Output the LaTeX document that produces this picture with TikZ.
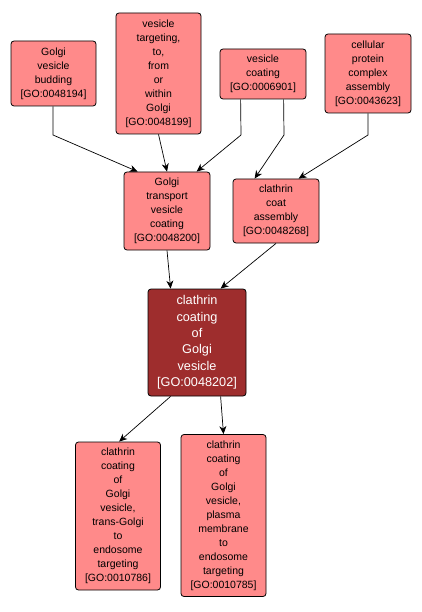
\documentclass[tikz,border=0pt]{standalone}
\usepackage{fontspec}
\setmainfont{Liberation Sans}
\usetikzlibrary{arrows.meta}
\definecolor{nodefill}{RGB}{255,138,138}
\definecolor{mainfill}{RGB}{158,45,45}
\tikzset{
  term/.style={draw=black, line width=0.8pt, rounded corners=3pt, fill=nodefill,
    align=center, inner sep=0pt, font=\fontsize{10.5}{14}\selectfont, text=black},
  mainterm/.style={term, fill=mainfill, text=white, font=\fontsize{12.7}{16.4}\selectfont},
  edge/.style={draw=black, line width=0.7pt, -{Stealth[length=8pt,width=7pt,inset=2.5pt]}}
}
\begin{document}
\begin{tikzpicture}[x=1pt,y=-1pt]
\useasboundingbox (0,0) rectangle (421,612);
\node[term, minimum width=85pt, minimum height=65pt] (n1) at (53.5,73.5) {Golgi\\vesicle\\budding\\{[}GO:0048194{]}};
\node[term, minimum width=85pt, minimum height=121pt] (n2) at (158.5,73.5) {vesicle\\targeting,\\to,\\from\\or\\within\\Golgi\\{[}GO:0048199{]}};
\node[term, minimum width=86pt, minimum height=50pt] (n3) at (263,74) {vesicle\\coating\\{[}GO:0006901{]}};
\node[term, minimum width=86pt, minimum height=79pt] (n4) at (368,73.5) {cellular\\protein\\complex\\assembly\\{[}GO:0043623{]}};
\node[term, minimum width=86pt, minimum height=78pt] (n5) at (167,211) {Golgi\\transport\\vesicle\\coating\\{[}GO:0048200{]}};
\node[term, minimum width=86pt, minimum height=64pt] (n6) at (276,211) {clathrin\\coat\\assembly\\{[}GO:0048268{]}};
\node[mainterm, minimum width=98pt, minimum height=107pt] (n7) at (197,342.5) {clathrin\\coating\\of\\Golgi\\vesicle\\{[}GO:0048202{]}};
\node[term, minimum width=85pt, minimum height=148pt] (n8) at (118,516) {clathrin\\coating\\of\\Golgi\\vesicle,\\trans-Golgi\\to\\endosome\\targeting\\{[}GO:0010786{]}};
\node[term, minimum width=85pt, minimum height=162pt] (n9) at (223.5,515.5) {clathrin\\coating\\of\\Golgi\\vesicle,\\plasma\\membrane\\to\\endosome\\targeting\\{[}GO:0010785{]}};
\coordinate (b1) at (53,135);
\coordinate (b3a) at (241,135);
\coordinate (b3b) at (284,135);
\coordinate (b4) at (368,135);
\draw[edge] ([xshift=-0.5pt]n1.south) -- (b1) -- ([xshift=14pt]n5.north west);
\draw[edge] (n2.south) -- (n5.north);
\draw[edge] ([xshift=21pt]n3.south west) -- (b3a) -- ([xshift=73pt]n5.north west);
\draw[edge] ([xshift=64pt]n3.south west) -- (b3b) -- ([xshift=22pt]n6.north west);
\draw[edge] (n4.south) -- (b4) -- ([xshift=66pt]n6.north west);
\draw[edge] (n5.south) -- ([xshift=23pt]n7.north west);
\draw[edge] (n6.south) -- ([xshift=73pt]n7.north west);
\draw[edge] ([xshift=23pt]n7.south west) -- ([xshift=44pt]n8.north west);
\draw[edge] ([xshift=73pt]n7.south west) -- (n9.north);
\end{tikzpicture}
\end{document}
